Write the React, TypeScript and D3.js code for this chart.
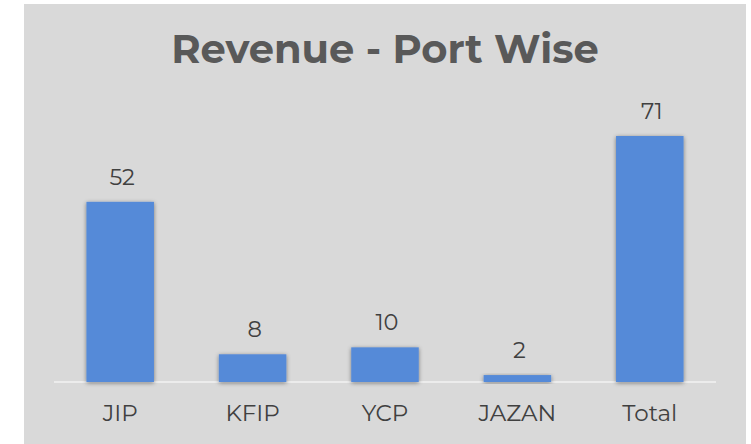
import React from "react";
import * as d3 from "d3";

const categories = ["JIP", "KFIP", "YCP", "JAZAN", "Total"];
const values = [52, 8, 10, 2, 71];

const W = 751;
const H = 444;
const baseY = 382;
const plotLeft = 54;
const plotRight = 716;

export default function App() {
  const x = d3.scaleBand<string>().domain(categories).range([plotLeft, plotRight]).paddingInner(0.49).paddingOuter(0.245);
  const y = d3.scaleLinear().domain([0, 71]).range([baseY, 136]);
  const font = "Montserrat, 'Open Sans', sans-serif";
  return (
    <svg width={W} height={H} style={{ position: "absolute", left: 0, top: 0 }}>
      <defs>
        <filter id="sh" x="-20%" y="-20%" width="140%" height="140%">
          <feDropShadow dx="0" dy="1" stdDeviation="2" floodColor="#000" floodOpacity="0.45" />
        </filter>
      </defs>
      <rect x={0} y={0} width={W} height={H} fill="#ffffff" />
      <rect x={24} y={4} width={722} height={440} fill="#d9d9d9" />
      <text x={385} y={63} textAnchor="middle" fontFamily={font} fontWeight={700} fontSize={40} fill="#595959">
        Revenue - Port Wise
      </text>
      <line x1={plotLeft} x2={plotRight} y1={baseY} y2={baseY} stroke="#ececec" strokeWidth={2} />
      {categories.map((c, i) => (
        <g key={c}>
          <rect
            x={x(c)}
            y={y(values[i])}
            width={x.bandwidth()}
            height={baseY - y(values[i])}
            fill="#558ad8"
            filter="url(#sh)"
          />
          <text x={(x(c) as number) + x.bandwidth() / 2 + 2} y={y(values[i]) - 17} textAnchor="middle" fontFamily={font} fontSize={22.5} fill="#404040">
            {values[i]}
          </text>
          <text x={(x(c) as number) + x.bandwidth() / 2} y={421} textAnchor="middle" fontFamily={font} fontSize={23} fill="#404040">
            {c}
          </text>
        </g>
      ))}
    </svg>
  );
}
